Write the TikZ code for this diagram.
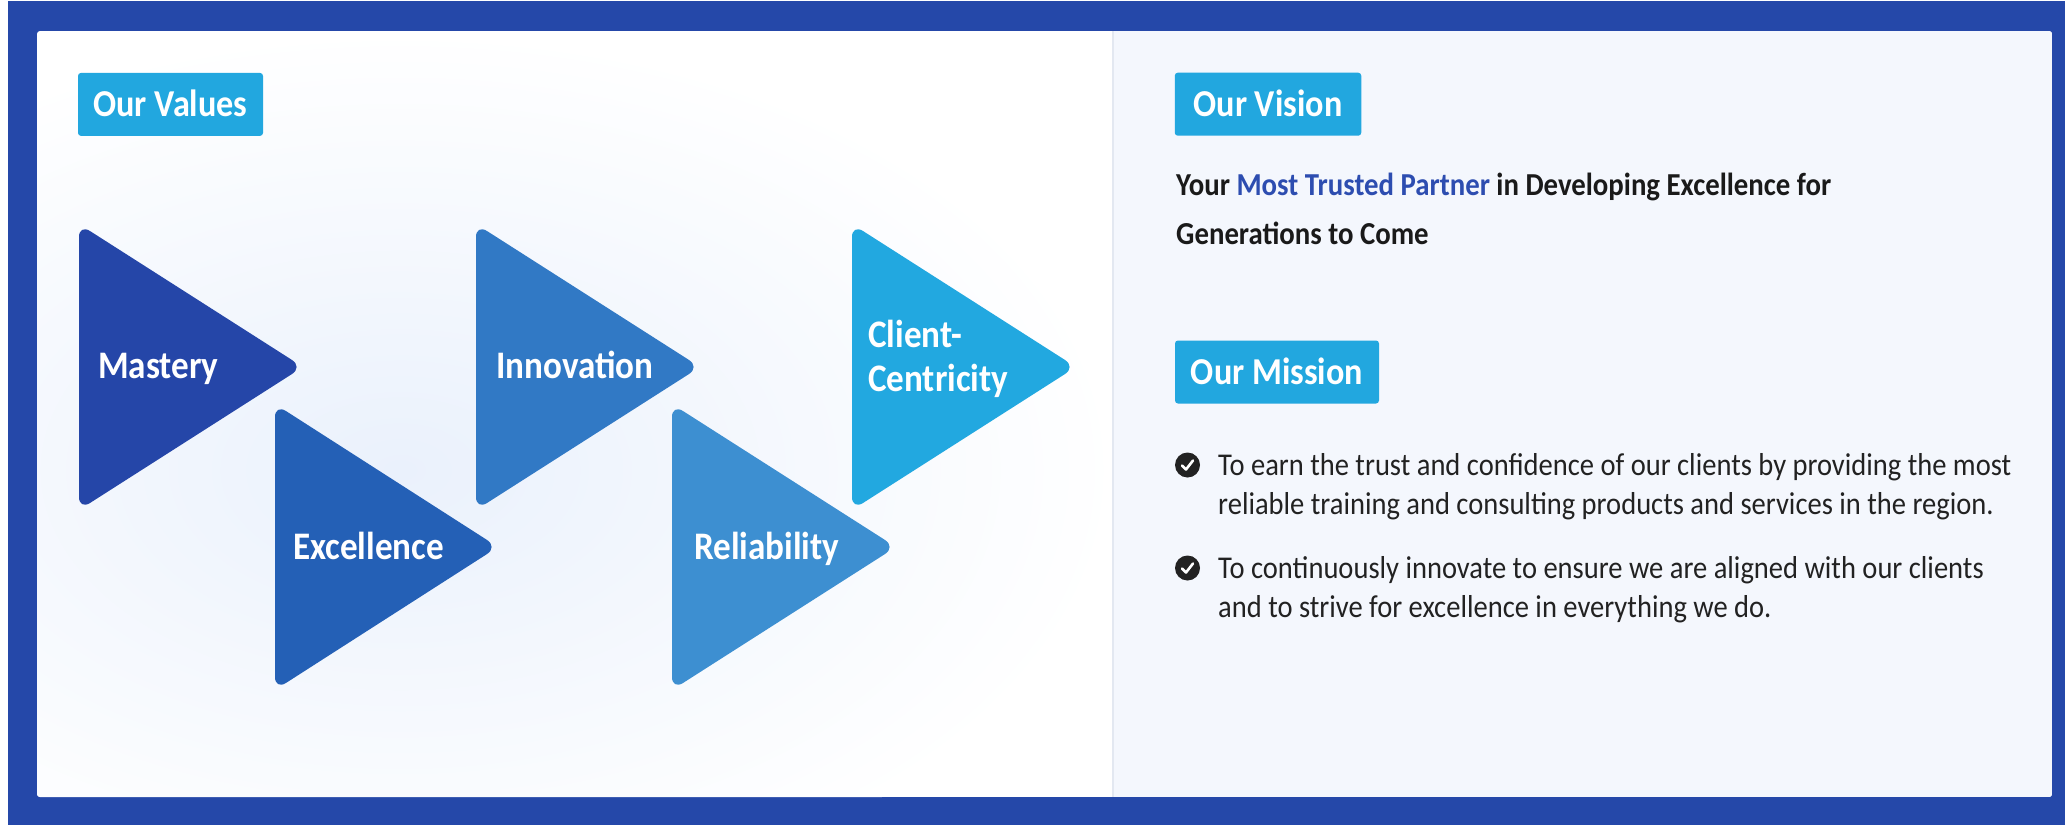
\documentclass[tikz,border=0pt]{standalone}
\usepackage{fontspec}
\setmainfont{Carlito}[FakeStretch=0.9]
\definecolor{framec}{HTML}{2548A9}
\definecolor{panelc}{HTML}{F4F7FD}
\definecolor{divc}{HTML}{E3E8F1}
\definecolor{labelc}{HTML}{22A7DF}
\definecolor{glowc}{HTML}{EAF1FC}
\definecolor{tA}{HTML}{2546A8}
\definecolor{tB}{HTML}{2460B6}
\definecolor{tC}{HTML}{3179C5}
\definecolor{tD}{HTML}{3D8FD1}
\definecolor{tE}{HTML}{22A8E0}
\definecolor{hl}{HTML}{2D4DB0}
\definecolor{visc}{HTML}{1A1A1A}
\definecolor{bodyc}{HTML}{222222}
\definecolor{chkc}{HTML}{222222}
\begin{document}
\begin{tikzpicture}[x=1pt,y=-1pt,
  tri/.style={rounded corners=13pt},
  hdr/.style={fill=labelc, rounded corners=3pt, text=white,
    font=\fontsize{38}{44}\selectfont\bfseries,
    text height=24.5pt, text depth=0pt, inner sep=0pt, minimum height=63pt},
  vlab/.style={text=white, font=\fontsize{39}{44}\selectfont\bfseries,
    anchor=base west, inner sep=0pt},
  body/.style={anchor=base west, inner sep=0pt,
    font=\fontsize{31.7}{40}\selectfont, text=bodyc},
  vis/.style={anchor=base west, inner sep=0pt,
    font=\fontsize{32}{40}\selectfont\bfseries, text=visc},
  chk/.style={circle, fill=chkc, minimum size=25pt, inner sep=0pt},
  tick/.style={white, line width=2.6pt, line cap=round, line join=round}]

\useasboundingbox (0,0) rectangle (2065,825);
\fill[white] (0,0) rectangle (2065,825);
% frame
\fill[framec] (8,1) rectangle (2065,825);
% panels
\begin{scope}
  \clip[rounded corners=3pt] (37,31) rectangle (2052,797);
  \fill[white] (37,31) rectangle (2052,797);
  \fill[panelc] (1113,31) rectangle (2052,797);
  \begin{scope}
    \clip (37,31) rectangle (1113,797);
    \shade[inner color=glowc, outer color=white] (400,470) ellipse [x radius=720, y radius=440];
  \end{scope}
\end{scope}
\draw[divc, line width=1.5pt] (1113,31) -- (1113,797);

% triangles
\fill[tA, tri] (79,367) -- (79,224) -- (303,367) -- (79,510) -- cycle;
\fill[tB, tri] (275,547) -- (275,404) -- (498,547) -- (275,690) -- cycle;
\fill[tC, tri] (476,367) -- (476,224) -- (700,367) -- (476,510) -- cycle;
\fill[tD, tri] (672,547) -- (672,404) -- (896,547) -- (672,690) -- cycle;
\fill[tE, tri] (852,367) -- (852,224) -- (1076,367) -- (852,510) -- cycle;

% triangle labels
\node[vlab] (lm) at (98,378) {Mastery};
\node[vlab] (le) at (293,559) {Excellence};
\node[vlab] (li) at (496,378) {Innovation};
\node[vlab] (lr) at (694,559) {Reliability};
\node[vlab] (lc1) at (868,347) {Client-};
\node[vlab] (lc2) at (868,391) {Centricity};

% headers
\node[hdr, minimum width=185pt] (hv) at (170.5,104.4) {Our Values};
\node[hdr, minimum width=186.5pt] (hvi) at (1268,104.2) {Our Vision};
\node[hdr, minimum width=204pt] (hm) at (1277,372) {Our Mission};

% vision
\node[vis] (v1) at (1176,195) {Your \textcolor{hl}{Most Trusted Partner} in Developing Excellence for};
\node[vis] (v2) at (1176,244) {Generations to Come};

% mission bullets
\node[chk] (c1) at (1187.5,465) {};
\draw[tick] ([shift={(-5.5,0.5)}]c1.center) -- ([shift={(-1.5,4.5)}]c1.center) -- ([shift={(5.5,-4.5)}]c1.center);
\node[chk] (c2) at (1187.5,568) {};
\draw[tick] ([shift={(-5.5,0.5)}]c2.center) -- ([shift={(-1.5,4.5)}]c2.center) -- ([shift={(5.5,-4.5)}]c2.center);

\node[body] (b1a) at (1218,475) {To earn the trust and confidence of our clients by providing the most};
\node[body] (b1b) at (1218,514) {reliable training and consulting products and services in the region.};
\node[body] (b2a) at (1218,578) {To continuously innovate to ensure we are aligned with our clients};
\node[body] (b2b) at (1218,617) {and to strive for excellence in everything we do.};
\end{tikzpicture}
\end{document}
